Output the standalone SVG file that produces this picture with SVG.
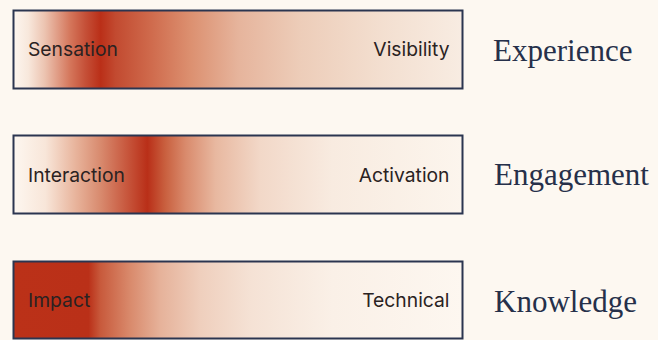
<svg xmlns="http://www.w3.org/2000/svg" width="658" height="340" viewBox="0 0 658 340">
<defs>
<linearGradient id="g1" x1="0" y1="0" x2="1" y2="0">
<stop offset="0" stop-color="#fdf6ef"/>
<stop offset="0.033" stop-color="#f8e8dc"/>
<stop offset="0.07" stop-color="#ecc3b0"/>
<stop offset="0.127" stop-color="#d4755a"/>
<stop offset="0.16" stop-color="#c55038"/>
<stop offset="0.194" stop-color="#ba2f18"/>
<stop offset="0.227" stop-color="#c24a30"/>
<stop offset="0.305" stop-color="#cf6a4c"/>
<stop offset="0.394" stop-color="#dc9070"/>
<stop offset="0.5" stop-color="#e6b49c"/>
<stop offset="0.64" stop-color="#edcdb9"/>
<stop offset="0.82" stop-color="#f3dfd0"/>
<stop offset="1" stop-color="#f8ece2"/>
</linearGradient>
<linearGradient id="g2" x1="0" y1="0" x2="1" y2="0">
<stop offset="0" stop-color="#fdf7f0"/>
<stop offset="0.071" stop-color="#f8e6d9"/>
<stop offset="0.138" stop-color="#e8b49c"/>
<stop offset="0.194" stop-color="#d88a6e"/>
<stop offset="0.25" stop-color="#c8593f"/>
<stop offset="0.298" stop-color="#b92f18"/>
<stop offset="0.338" stop-color="#c9603f"/>
<stop offset="0.383" stop-color="#d98a6c"/>
<stop offset="0.45" stop-color="#e8b8a0"/>
<stop offset="0.55" stop-color="#f2d8c8"/>
<stop offset="0.71" stop-color="#f8ebe0"/>
<stop offset="1" stop-color="#fcf5ed"/>
</linearGradient>
<linearGradient id="g3" x1="0" y1="0" x2="1" y2="0">
<stop offset="0" stop-color="#bb3118"/>
<stop offset="0.167" stop-color="#ba3018"/>
<stop offset="0.194" stop-color="#c85a3c"/>
<stop offset="0.26" stop-color="#d98a6c"/>
<stop offset="0.327" stop-color="#e6b29a"/>
<stop offset="0.416" stop-color="#efcfbd"/>
<stop offset="0.53" stop-color="#f5e2d5"/>
<stop offset="0.71" stop-color="#faf0e7"/>
<stop offset="1" stop-color="#fdf7f0"/>
</linearGradient>
</defs>
<style>
.bar{stroke:#2b3550;stroke-width:2}
.lab{font-family:Inter,"Liberation Sans",sans-serif;font-size:19.3px;fill:#2a2222}
.end{text-anchor:end}
.cat{font-family:"Liberation Serif",serif;font-size:31px;fill:#26304a}
</style>
<rect width="658" height="340" fill="#fdf8f1"/>
<g id="experience">
<rect class="bar" x="13.5" y="10.5" width="449" height="78" fill="url(#g1)"/>
<text class="lab" x="28" y="56">Sensation</text>
<text class="lab end" x="449.5" y="56">Visibility</text>
<text class="cat" x="493" y="61">Experience</text>
</g>
<g id="engagement">
<rect class="bar" x="13.5" y="135.5" width="449" height="78" fill="url(#g2)"/>
<text class="lab" x="28" y="182">Interaction</text>
<text class="lab end" x="449.5" y="182">Activation</text>
<text class="cat" x="494" y="185">Engagement</text>
</g>
<g id="knowledge">
<rect class="bar" x="13.5" y="261.5" width="449" height="77" fill="url(#g3)"/>
<text class="lab" x="28" y="307">Impact</text>
<text class="lab end" x="449.5" y="307">Technical</text>
<text class="cat" x="494" y="312">Knowledge</text>
</g>
<g id="connectors"/>
</svg>
